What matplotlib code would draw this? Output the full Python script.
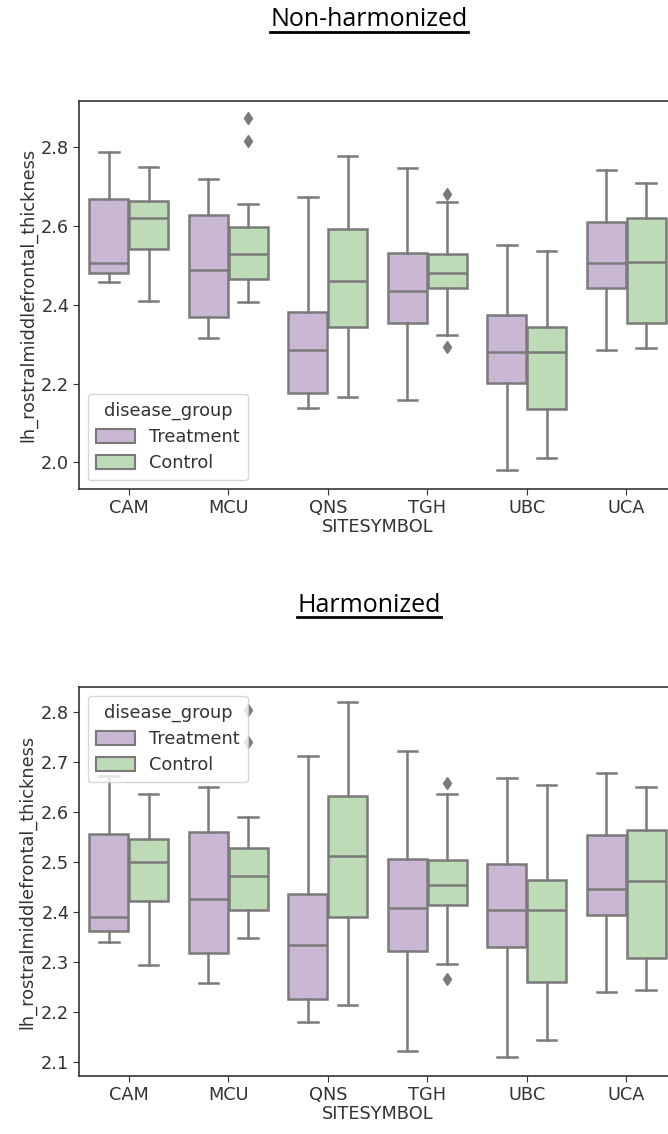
import matplotlib
matplotlib.use("Agg")
import matplotlib.pyplot as plt
from matplotlib.patches import Patch
from matplotlib.lines import Line2D

sites = ["CAM", "MCU", "QNS", "TGH", "UBC", "UCA"]
groups = ["Treatment", "Control"]

# Non-harmonized: [Treatment per site], [Control per site]
nh_whislo = [[2.457, 2.316, 2.139, 2.157, 1.981, 2.284],
             [2.411, 2.407, 2.167, 2.324, 2.011, 2.290]]
nh_q1 = [[2.481, 2.370, 2.175, 2.353, 2.201, 2.442],
         [2.543, 2.466, 2.343, 2.443, 2.135, 2.353]]
nh_med = [[2.506, 2.488, 2.284, 2.435, 2.279, 2.507],
          [2.621, 2.529, 2.461, 2.480, 2.279, 2.510]]
nh_q3 = [[2.670, 2.628, 2.383, 2.532, 2.373, 2.610],
         [2.665, 2.598, 2.592, 2.529, 2.343, 2.620]]
nh_whishi = [[2.788, 2.720, 2.674, 2.747, 2.552, 2.742],
             [2.751, 2.655, 2.779, 2.661, 2.538, 2.710]]
nh_fliers = [[[], [], [], [], [], []],
             [[], [2.875, 2.817], [], [2.681, 2.294], [], []]]

# Harmonized
h_whislo = [[2.339, 2.257, 2.179, 2.121, 2.109, 2.239],
            [2.293, 2.347, 2.214, 2.295, 2.143, 2.243]]
h_q1 = [[2.362, 2.317, 2.225, 2.321, 2.329, 2.393],
        [2.422, 2.404, 2.390, 2.414, 2.260, 2.307]]
h_med = [[2.390, 2.426, 2.333, 2.408, 2.404, 2.446],
         [2.501, 2.472, 2.513, 2.454, 2.404, 2.462]]
h_q3 = [[2.557, 2.561, 2.436, 2.507, 2.497, 2.555],
        [2.547, 2.529, 2.633, 2.504, 2.464, 2.564]]
h_whishi = [[2.673, 2.651, 2.712, 2.723, 2.668, 2.679],
            [2.637, 2.591, 2.820, 2.637, 2.654, 2.651]]
h_fliers = [[[], [], [], [], [], []],
            [[], [2.804, 2.741], [], [2.658, 2.265], [], []]]

colors = ["#cab7d3", "#bddbb6"]
edge = "#7a7a7a"
FS = 12.8

W, H = 668, 1134
fig = plt.figure(figsize=(W / 100, H / 100), dpi=100)
plt.rcParams["font.family"] = "DejaVu Sans"


def panel(rect, whislo, q1, med, q3, whishi, fliers, ylim, yticks, legloc):
    ax = fig.add_axes(rect)
    for g in range(2):
        stats = []
        for i in range(len(sites)):
            stats.append(dict(whislo=whislo[g][i], q1=q1[g][i], med=med[g][i],
                              q3=q3[g][i], whishi=whishi[g][i], fliers=fliers[g][i]))
        pos = [i + (-0.2 if g == 0 else 0.2) for i in range(len(sites))]
        ax.bxp(stats, positions=pos, widths=0.392, patch_artist=True,
               showfliers=True, manage_ticks=False,
               boxprops=dict(facecolor=colors[g], edgecolor=edge, linewidth=1.8),
               medianprops=dict(color=edge, linewidth=1.8),
               whiskerprops=dict(color=edge, linewidth=1.8),
               capprops=dict(color=edge, linewidth=1.8),
               flierprops=dict(marker="d", markerfacecolor=edge, markeredgecolor=edge,
                               markersize=6, linestyle="none"))
    ax.set_xlim(-0.5, len(sites) - 0.5)
    ax.set_ylim(*ylim)
    ax.set_xticks(range(len(sites)))
    ax.set_xticklabels(sites, fontsize=FS, color="#333333")
    ax.set_yticks(yticks)
    ax.set_yticklabels([f"{t:.1f}" for t in yticks], fontsize=FS, color="#333333")
    ax.set_xlabel("SITESYMBOL", fontsize=FS, color="#333333", labelpad=1)
    ax.set_ylabel("lh_rostralmiddlefrontal_thickness", fontsize=FS, color="#333333", labelpad=3)
    for s in ax.spines.values():
        s.set_color("#333333")
        s.set_linewidth(1.2)
    ax.tick_params(color="#333333", length=4, pad=3)
    handles = [Patch(facecolor=colors[g], edgecolor=edge, linewidth=1.5, label=groups[g])
               for g in range(2)]
    leg = ax.legend(handles=handles, title="disease_group", loc=legloc, fontsize=FS,
                    title_fontsize=FS, framealpha=0.8, borderaxespad=0.5,
                    handlelength=2.2, handleheight=0.8, handletextpad=0.8,
                    labelspacing=0.45, borderpad=0.45)
    leg.get_title().set_color("#333333")
    for t in leg.get_texts():
        t.set_color("#333333")
    return ax


ax1 = panel([79 / W, 1 - 489 / H, (676 - 79) / W, (489 - 101) / H],
            nh_whislo, nh_q1, nh_med, nh_q3, nh_whishi, nh_fliers,
            (1.932, 2.918), [2.0, 2.2, 2.4, 2.6, 2.8], "lower left")
ax2 = panel([79 / W, 1 - 1076 / H, (676 - 79) / W, (1076 - 687) / H],
            h_whislo, h_q1, h_med, h_q3, h_whishi, h_fliers,
            (2.071, 2.851), [2.1, 2.2, 2.3, 2.4, 2.5, 2.6, 2.7, 2.8], "upper left")

titles = [("Non-harmonized", 369, 20), ("Harmonized", 369, 605)]
txts = []
for s, x, y in titles:
    t = fig.text(x / W, 1 - y / H, s, ha="center", va="center", fontsize=18,
                 family=["Open Sans", "DejaVu Sans"], color="black")
    txts.append(t)
fig.canvas.draw()
r = fig.canvas.get_renderer()
for t in txts:
    bb = t.get_window_extent(renderer=r)
    yline = bb.y0 + 1
    fig.add_artist(Line2D([bb.x0 / W, bb.x1 / W], [yline / H, yline / H],
                          transform=fig.transFigure, color="black", linewidth=2))

fig.savefig("out.png", dpi=100)
